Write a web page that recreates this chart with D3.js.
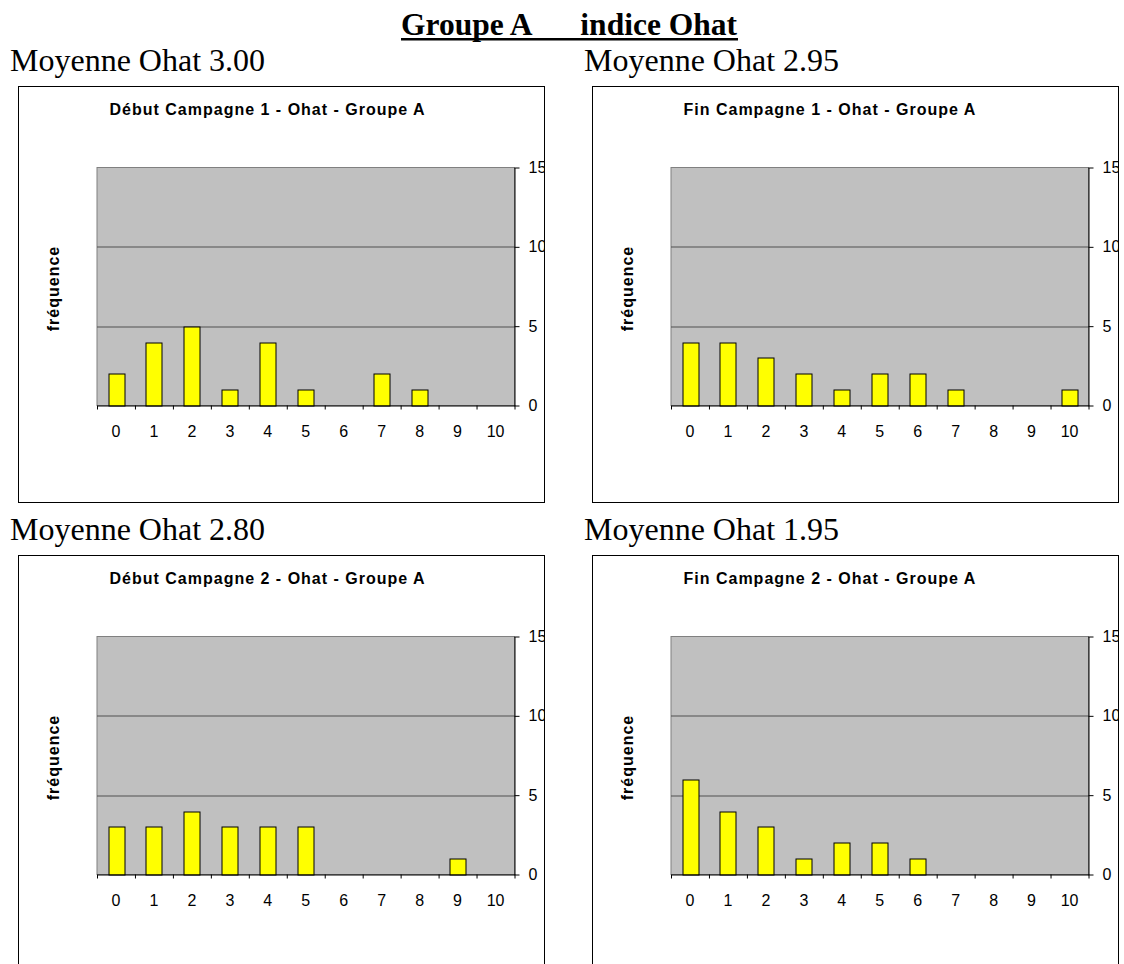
<!DOCTYPE html>
<html lang="fr">
	<head>
		<meta charset="utf-8">
		<title>Groupe A - indice Ohat</title>
		<script type="text/javascript" src="https://cdn.jsdelivr.net/npm/d3@7/dist/d3.min.js"></script>
		<style type="text/css">
			body { margin: 0; background: #fff; }
			svg { display: block; }
		</style>
	</head>
	<body>
		<script type="text/javascript">

			//Width and height
			var w = 1124;
			var h = 964;

			//Categories (indice Ohat)
			var categories = ["0", "1", "2", "3", "4", "5", "6", "7", "8", "9", "10"];

			//Frequencies for each chart
			var debutC1 = [2, 4, 5, 1, 4, 1, 0, 2, 1, 0, 0];
			var finC1   = [4, 4, 3, 2, 1, 2, 2, 1, 0, 0, 1];
			var debutC2 = [3, 3, 4, 3, 3, 3, 0, 0, 0, 1, 0];
			var finC2   = [6, 4, 3, 1, 2, 2, 1, 0, 0, 0, 0];

			//Chart titles and means
			var chartTitles = [
				"Début Campagne 1 - Ohat - Groupe A",
				"Fin Campagne 1 - Ohat - Groupe A",
				"Début Campagne 2 - Ohat - Groupe A",
				"Fin Campagne 2 - Ohat - Groupe A"
			];
			var moyennes = ["3.00", "2.95", "2.80", "1.95"];
			var yTicks = [0, 5, 10, 15];

			var series = [debutC1, finC1, debutC2, finC2];

			//Box layout
			var boxW = 526, boxH = 416;
			var boxPos = [[18.5, 86.5], [592.5, 86.5], [18.5, 555.5], [592.5, 555.5]];

			//Plot area inside each box
			var pLeft = 78.5, pRight = 496, pTop = 81, pBottom = 319;

			var xScale = d3.scaleBand()
						   .domain(categories)
						   .range([pLeft, pRight])
						   .paddingInner(0.58)
						   .paddingOuter(0.29);

			//linear scale for the tick marks between categories
			var xEdge = d3.scaleLinear()
						  .domain([0, categories.length])
						  .range([pLeft, pRight]);

			var yScale = d3.scaleLinear()
						   .domain([0, 15])
						   .range([pBottom, pTop]);

			var svg = d3.select("body")
						.append("svg")
						.attr("width", w)
						.attr("height", h);

			//Main title
			svg.append("text")
			   .attr("x", 401)
			   .attr("y", 35)
			   .attr("font-family", "'Liberation Serif', 'Times New Roman', serif")
			   .attr("font-weight", "bold")
			   .attr("font-size", "31.5px")
			   .text("Groupe A");
			svg.append("text")
			   .attr("x", 737)
			   .attr("y", 35)
			   .attr("text-anchor", "end")
			   .attr("font-family", "'Liberation Serif', 'Times New Roman', serif")
			   .attr("font-weight", "bold")
			   .attr("font-size", "31.5px")
			   .text("indice Ohat");
			svg.append("line")
			   .attr("x1", 401)
			   .attr("x2", 738)
			   .attr("y1", 39.3)
			   .attr("y2", 39.3)
			   .attr("stroke", "#000")
			   .attr("stroke-width", 2.5);

			series.forEach(function(data, i) {
				var bx = boxPos[i][0], by = boxPos[i][1];

				//Moyenne label above box
				svg.append("text")
				   .attr("x", bx - 8.5)
				   .attr("y", by - 16)
				   .attr("font-family", "'Liberation Serif', 'Times New Roman', serif")
				   .attr("font-size", "32px")
				   .text("Moyenne Ohat " + moyennes[i]);

				svg.append("clipPath")
				   .attr("id", "clip" + i)
				   .append("rect")
				   .attr("x", 0)
				   .attr("y", 0)
				   .attr("width", boxW)
				   .attr("height", boxH);

				var g = svg.append("g")
						   .attr("transform", "translate(" + bx + "," + by + ")");

				var inner = g.append("g")
							 .attr("clip-path", "url(#clip" + i + ")");

				//Box
				inner.append("rect")
				   .attr("width", boxW)
				   .attr("height", boxH)
				   .attr("fill", "#fff");

				//Chart title
				inner.append("text")
				   .attr("x", 91)
				   .attr("y", 28.5)
				   .attr("font-family", "'Liberation Sans', Arial, sans-serif")
				   .attr("font-weight", "bold")
				   .attr("font-size", "16px")
				   .attr("letter-spacing", "1px")
				   .text(chartTitles[i]);

				//Plot area
				inner.append("rect")
				   .attr("x", pLeft)
				   .attr("y", pTop)
				   .attr("width", pRight - pLeft)
				   .attr("height", pBottom - pTop)
				   .attr("fill", "#c0c0c0")
				   .attr("stroke", "#808080")
				   .attr("stroke-width", 1);

				//Gridlines
				inner.selectAll(".grid")
				   .data([5, 10])
				   .enter()
				   .append("line")
				   .attr("x1", pLeft)
				   .attr("x2", pRight)
				   .attr("y1", function(d) { return Math.round(yScale(d)) + 0.5; })
				   .attr("y2", function(d) { return Math.round(yScale(d)) + 0.5; })
				   .attr("stroke", "#505050")
				   .attr("stroke-width", 1);

				//Bars (zero counts are not drawn)
				inner.selectAll(".bar")
				   .data(categories)
				   .enter()
				   .append("rect")
				   .attr("class", "bar")
				   .attr("x", function(c) { return Math.round(xScale(c)) + 0.5; })
				   .attr("y", function(c, j) { return Math.round(yScale(data[j])) + 0.5; })
				   .attr("width", Math.round(xScale.bandwidth()))
				   .attr("height", function(c, j) { return Math.round(yScale(0)) - Math.round(yScale(data[j])); })
				   .attr("fill", "#ffff00")
				   .attr("stroke", "#000")
				   .attr("stroke-width", 1)
				   .style("display", function(c, j) { return data[j] > 0 ? null : "none"; });

				//X axis: ticks between categories
				var xAxisTicks = d3.axisBottom(xEdge)
								   .tickValues(d3.range(categories.length + 1))
								   .tickSize(4)
								   .tickSizeOuter(0)
								   .tickFormat("");
				inner.append("g")
				   .attr("transform", "translate(0," + pBottom + ")")
				   .call(xAxisTicks);

				//X axis: labels
				var xAxisLabels = d3.axisBottom(xScale)
									.tickSize(0)
									.tickPadding(20);
				var xl = inner.append("g")
							  .attr("transform", "translate(0," + pBottom + ")")
							  .call(xAxisLabels);
				xl.select(".domain").remove();

				//Y axis on the right
				var yAxis = d3.axisRight(yScale)
							  .tickValues(yTicks)
							  .tickSize(5)
							  .tickSizeOuter(0)
							  .tickPadding(9);
				inner.append("g")
				   .attr("transform", "translate(" + pRight + ",0)")
				   .call(yAxis);

				//Y axis title
				inner.append("text")
				   .attr("transform", "translate(40," + ((pTop + pBottom) / 2 + 2) + ") rotate(-90)")
				   .attr("text-anchor", "middle")
				   .attr("font-family", "'Liberation Sans', Arial, sans-serif")
				   .attr("font-weight", "bold")
				   .attr("font-size", "16px")
				   .attr("letter-spacing", "1px")
				   .text("fréquence");

				//Box border on top
				g.append("rect")
				   .attr("width", boxW)
				   .attr("height", boxH)
				   .attr("fill", "none")
				   .attr("stroke", "#000")
				   .attr("stroke-width", 1);
			});

			//Axis styling
			svg.selectAll(".tick text")
			   .attr("font-family", "'Liberation Sans', Arial, sans-serif")
			   .attr("font-size", "16px")
			   .attr("fill", "#000");
			svg.selectAll(".domain, .tick line")
			   .attr("stroke", "#000");

		</script>
	</body>
</html>
